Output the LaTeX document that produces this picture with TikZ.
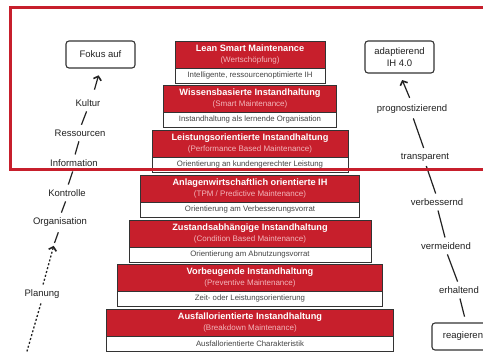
\documentclass[tikz,border=0pt]{standalone}
\usepackage{fontspec}
\setmainfont{Liberation Sans}
\usetikzlibrary{arrows.meta,positioning}
\definecolor{ihred}{HTML}{C71F2C}
\definecolor{ink}{HTML}{222222}
\definecolor{boxline}{HTML}{333333}
\definecolor{subpink}{HTML}{F2B6BB}
\definecolor{descgray}{HTML}{444444}
\begin{document}
\begin{tikzpicture}[x=1pt,y=-1pt,
  titlebox/.style={draw=boxline, line width=0.8pt, fill=ihred, minimum height=27pt, inner sep=0pt, outer sep=0pt, align=center, text=white, anchor=north},
  descbox/.style={draw=boxline, line width=0.8pt, fill=white, minimum height=15pt, inner sep=0pt, outer sep=0pt, text=descgray, font=\fontsize{7.8}{9}\selectfont},
  sidelabel/.style={font=\fontsize{9.5}{11}\selectfont, text=ink, inner sep=1pt},
  endbox/.style={draw=boxline, line width=1.1pt, rounded corners=3pt, fill=white, align=center, inner sep=0pt, text=ink, font=\fontsize{9.5}{11.5}\selectfont},
  link/.style={draw=ink, line width=1.2pt},
  dotlink/.style={draw=ink, line width=1.3pt, dash pattern=on 2pt off 2pt},
  tip/.style={-{Straight Barb[length=3.5pt,width=8pt,line width=1.6pt]}}
]
\clip (0,0) rectangle (483,352);
\fill[white] (0,0) rectangle (483,352);

\newcommand{\ttl}[2]{{\fontsize{9.2}{10}\selectfont\bfseries #1}\\[-1.5pt]{\fontsize{8}{9}\selectfont\color{subpink}#2}}

% pyramid
\node[titlebox, minimum width=150pt] (l1t) at (250,41) {\ttl{Lean Smart Maintenance}{(Wertschöpfung)}};
\node[descbox, minimum width=150pt, below=0pt of l1t] (l1d) {Intelligente, ressourcenoptimierte IH};
\node[titlebox, minimum width=173pt] (l2t) at (250,85) {\ttl{Wissensbasierte Instandhaltung}{(Smart Maintenance)}};
\node[descbox, minimum width=173pt, below=0pt of l2t] (l2d) {Instandhaltung als lernende Organisation};
\node[titlebox, minimum width=196pt] (l3t) at (250,130) {\ttl{Leistungsorientierte Instandhaltung}{(Performance Based Maintenance)}};
\node[descbox, minimum width=196pt, below=0pt of l3t] (l3d) {Orientierung an kundengerechter Leistung};
\node[titlebox, minimum width=219pt] (l4t) at (250,175) {\ttl{Anlagenwirtschaftlich orientierte IH}{(TPM / Predictive Maintenance)}};
\node[descbox, minimum width=219pt, below=0pt of l4t] (l4d) {Orientierung am Verbesserungsvorrat};
\node[titlebox, minimum width=242pt] (l5t) at (250,220) {\ttl{Zustandsabhängige Instandhaltung}{(Condition Based Maintenance)}};
\node[descbox, minimum width=242pt, below=0pt of l5t] (l5d) {Orientierung am Abnutzungsvorrat};
\node[titlebox, minimum width=265pt] (l6t) at (250,264) {\ttl{Vorbeugende Instandhaltung}{(Preventive Maintenance)}};
\node[descbox, minimum width=265pt, below=0pt of l6t] (l6d) {Zeit- oder Leistungsorientierung};
\node[titlebox, minimum width=287pt] (l7t) at (250,309) {\ttl{Ausfallorientierte Instandhaltung}{(Breakdown Maintenance)}};
\node[descbox, minimum width=287pt, below=0pt of l7t] (l7d) {Ausfallorientierte Charakteristik};

% left chain
\node[endbox, minimum width=69pt, minimum height=27pt] (fokus) at (100.5,54.5) {Fokus auf};
\node[sidelabel] (kultur) at (88,103) {Kultur};
\node[sidelabel] (ress) at (80,133) {Ressourcen};
\node[sidelabel] (info) at (74,163) {Information};
\node[sidelabel] (kontr) at (67,193) {Kontrolle};
\node[sidelabel] (orga) at (60,222) {Organisation};
\node[sidelabel] (plan) at (42,294) {Planung};
\coordinate (orgfoot) at (54.5,243);
\coordinate (leftend) at (25,358);

\draw[link, tip, shorten <=9pt, shorten >=7pt] ([xshift=4pt]kultur.north) -- (fokus.south);
\draw[link, shorten <=4pt, shorten >=4pt] (ress.north) -- (kultur.south);
\draw[link, shorten <=4pt, shorten >=4pt] (info.north) -- (ress.south);
\draw[link, shorten <=4pt, shorten >=4pt] (kontr.north) -- (info.south);
\draw[link, shorten <=4pt, shorten >=4pt] (orga.north) -- (kontr.south);
\draw[link, shorten <=5pt] (orga.south) -- (orgfoot);
\draw[dotlink, tip, shorten <=4pt, shorten >=3pt] (plan.north) -- (orgfoot);
\draw[dotlink, shorten <=4pt] (plan.south) -- (leftend);

% right chain
\node[endbox, minimum width=69pt, minimum height=32pt] (adapt) at (399.5,57) {adaptierend\\IH 4.0};
\node[sidelabel] (prog) at (412,109) {prognostizierend};
\node[sidelabel] (transp) at (425,157) {transparent};
\node[sidelabel] (verb) at (437,202) {verbessernd};
\node[sidelabel] (verm) at (446,246) {vermeidend};
\node[sidelabel] (erh) at (459,290) {erhaltend};
\node[endbox, minimum width=62pt, minimum height=27pt] (reag) at (463,336.5) {reagieren};

\draw[link, tip, shorten <=6pt, shorten >=7pt] (prog.north) -- (adapt.south);
\draw[link, shorten <=4pt, shorten >=4pt] (prog.south) -- (transp.north);
\draw[link, shorten <=4pt, shorten >=4pt] (transp.south) -- (verb.north);
\draw[link, shorten <=4pt, shorten >=4pt] (verb.south) -- (verm.north);
\draw[link, shorten <=4pt, shorten >=4pt] (verm.south) -- (erh.north);
\draw[link, shorten <=4pt, shorten >=6pt] (erh.south) -- ([xshift=3pt]reag.north);

% red frame
\draw[ihred, line width=3pt] (10,8) rectangle (500,170);
\end{tikzpicture}
\end{document}
